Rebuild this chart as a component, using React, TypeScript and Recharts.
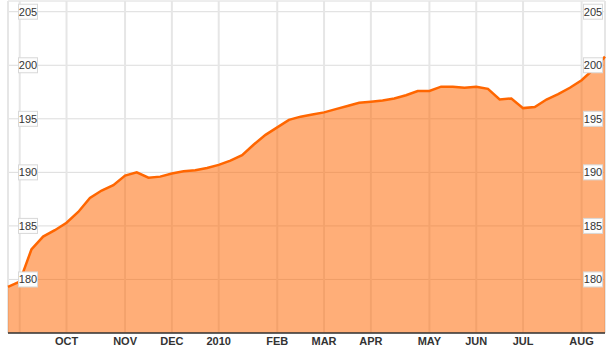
import { AreaChart, Area, XAxis, YAxis, CartesianGrid, ReferenceLine } from 'recharts'

// weekly closes, late Aug 2009 -> Aug 2010
const prices = [
  179.3, 179.8, 182.8, 184.0, 184.6, 185.3, 186.3, 187.6, 188.3, 188.8,
  189.7, 190.0, 189.5, 189.6, 189.9, 190.1, 190.2, 190.4, 190.7, 191.1,
  191.6, 192.6, 193.5, 194.2, 194.9, 195.2, 195.4, 195.6, 195.9, 196.2,
  196.5, 196.6, 196.7, 196.9, 197.2, 197.6, 197.6, 198.0, 198.0, 197.9,
  198.0, 197.8, 196.8, 196.9, 196.0, 196.1, 196.8, 197.3, 197.9, 198.6,
  199.6, 200.8,
]

const monthTicks = [1, 5, 10, 14, 18, 23, 27, 31, 36, 40, 44, 49]
const monthLabels = ['', 'OCT', 'NOV', 'DEC', '2010', 'FEB', 'MAR', 'APR', 'MAY', 'JUN', 'JUL', 'AUG']
const yTicks = [180, 185, 190, 195, 200, 205]

const data = prices.map((v, i) => ({ i, v }))

const FONT = "Arial, 'Liberation Sans', sans-serif"

const renderMonthTick = (props: any) => {
  const { x, y, payload } = props
  const idx = monthTicks.indexOf(payload.value)
  const label = monthLabels[idx] ?? ''
  return (
    <text key={`m${payload.value}`} x={x} y={y} dy={4} textAnchor="middle" fontSize={11} fontWeight="bold" fill="#333" fontFamily={FONT}>
      {label}
    </text>
  )
}

const renderNothing = () => <g />

// boxed price labels on both sides of the plot
const makePriceLabel = (value: number) => (props: any) => {
  const vb = props.viewBox || {}
  const y = vb.y
  const boxes = [vb.x + 10.5, vb.x + vb.width - 21.5]
  return (
    <g>
      {boxes.map((bx, k) => (
        <g key={k}>
          <rect x={bx} y={y - 7.5} width={19} height={15} style={{ fill: 'rgb(253,253,253)', fillOpacity: 1, stroke: '#d8d8d8', strokeWidth: 1 }} />
          <text x={bx + 9.5} y={y + 4} textAnchor="middle" fontSize={11} style={{ fill: '#333' }} fontFamily={FONT}>
            {value}
          </text>
        </g>
      ))}
    </g>
  )
}

export default function App() {
  return (
    <div>
      <style>{'body{margin:0}'}</style>
      <AreaChart width={614} height={353} data={data} margin={{ top: 1, right: 9, left: 8, bottom: 0 }}>
        <CartesianGrid vertical={false} stroke="#dcdcdc" />
        <CartesianGrid horizontal={false} stroke="#e6e6e6" strokeWidth={2} />
        <XAxis
          dataKey="i"
          type="number"
          domain={[0, 51]}
          ticks={monthTicks}
          interval={0}
          height={20}
          tickLine={false}
          axisLine={{ stroke: '#333', strokeWidth: 1.5 }}
          tick={renderMonthTick}
        />
        <YAxis
          mirror
          width={0}
          domain={[175, 206]}
          ticks={yTicks}
          tick={renderNothing}
          tickLine={false}
          axisLine={false}
        />
        <Area
          type="linear"
          dataKey="v"
          stroke="#ff6600"
          strokeWidth={2.5}
          fill="#ff6600"
          fillOpacity={0.53}
          isAnimationActive={false}
        />
        {yTicks.map((t) => (
          <ReferenceLine key={t} y={t} stroke="none" ifOverflow="visible" label={makePriceLabel(t)} />
        ))}
      </AreaChart>
    </div>
  )
}
